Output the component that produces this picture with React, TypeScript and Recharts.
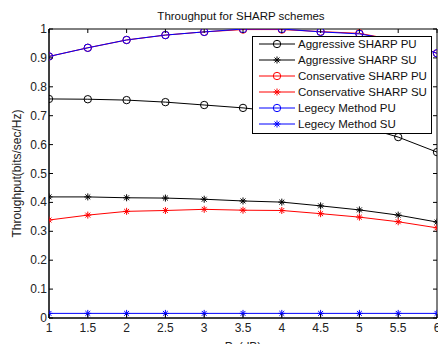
import React from 'react';
import { LineChart, Line, XAxis, YAxis, Legend, ReferenceArea } from 'recharts';

const ps = [1, 1.5, 2, 2.5, 3, 3.5, 4, 4.5, 5, 5.5, 6];
const aggressivePU = [0.758, 0.757, 0.754, 0.747, 0.737, 0.727, 0.713, 0.693, 0.665, 0.626, 0.574];
const aggressiveSU = [0.419, 0.419, 0.416, 0.415, 0.411, 0.405, 0.401, 0.388, 0.374, 0.356, 0.332];
const conservativePU = [0.905, 0.935, 0.962, 0.979, 0.99, 0.998, 0.998, 0.991, 0.985, 0.96, 0.916];
const conservativeSU = [0.339, 0.356, 0.369, 0.372, 0.376, 0.373, 0.372, 0.361, 0.349, 0.333, 0.312];
const legacyPU = [0.905, 0.935, 0.962, 0.979, 0.99, 1.0, 1.0, 0.99, 0.983, 0.96, 0.916];
const legacySU = [0.016, 0.016, 0.016, 0.016, 0.016, 0.016, 0.016, 0.016, 0.016, 0.016, 0.016];
const xTicks = [1, 1.5, 2, 2.5, 3, 3.5, 4, 4.5, 5, 5.5, 6];
const yTicks = [0, 0.1, 0.2, 0.3, 0.4, 0.5, 0.6, 0.7, 0.8, 0.9, 1];

const seriesNames = [
  'Aggressive SHARP PU',
  'Aggressive SHARP SU',
  'Conservative SHARP PU',
  'Conservative SHARP SU',
  'Legecy Method PU',
  'Legecy Method SU',
];
const seriesColors = ['#000000', '#000000', '#ff0000', '#ff0000', '#0000ff', '#0000ff'];
const seriesMarkers = ['circle', 'star', 'circle', 'star', 'circle', 'star'];
const seriesKeys = ['aPU', 'aSU', 'cPU', 'cSU', 'lPU', 'lSU'];

const data = ps.map((p, i) => ({
  ps: p,
  aPU: aggressivePU[i],
  aSU: aggressiveSU[i],
  cPU: conservativePU[i],
  cSU: conservativeSU[i],
  lPU: legacyPU[i],
  lSU: legacySU[i],
}));

const FONT = '"Liberation Sans", Arial, sans-serif';
const PLOT_W = 388;
const PLOT_H = 289;

const Star = ({ cx, cy, color, s = 3.5 }: any) => {
  const d = s * 0.7;
  return (
    <g stroke={color} strokeWidth={1}>
      <line x1={cx - s} y1={cy} x2={cx + s} y2={cy} />
      <line x1={cx} y1={cy - s} x2={cx} y2={cy + s} />
      <line x1={cx - d} y1={cy - d} x2={cx + d} y2={cy + d} />
      <line x1={cx - d} y1={cy + d} x2={cx + d} y2={cy - d} />
    </g>
  );
};

const makeDot = (marker: string, color: string) => (props: any) => {
  const { cx, cy, index } = props;
  if (cx == null || cy == null) return <g key={index} />;
  if (marker === 'circle') {
    return <circle key={index} cx={cx} cy={cy} r={3.7} fill="none" stroke={color} strokeWidth={1} />;
  }
  return <Star key={index} cx={cx} cy={cy} color={color} />;
};

const XTick = (props: any) => {
  const { x, y, payload } = props;
  return (
    <g>
      <line x1={x} x2={x} y1={y} y2={y - 4} stroke="#000" />
      <line x1={x} x2={x} y1={y - PLOT_H} y2={y - PLOT_H + 4} stroke="#000" />
      <text x={x} y={y + 14} textAnchor="middle" fontSize={12} fill="#222" fontFamily={FONT}>
        {payload.value}
      </text>
    </g>
  );
};

const YTick = (props: any) => {
  const { x, y, payload } = props;
  return (
    <g>
      <line x1={x} x2={x + 4} y1={y} y2={y} stroke="#000" />
      <line x1={x + PLOT_W} x2={x + PLOT_W - 4} y1={y} y2={y} stroke="#000" />
      <text x={x - 2} y={y + 4} textAnchor="end" fontSize={12} fill="#222" fontFamily={FONT}>
        {payload.value}
      </text>
    </g>
  );
};

const LegendBox = () => (
  <svg width={180} height={98} style={{ display: 'block' }}>
    <rect x={0.5} y={0.5} width={179} height={97} fill="#fff" stroke="#000" strokeWidth={1} />
    {seriesNames.map((name, i) => {
      const cy = 8 + i * 16;
      const color = seriesColors[i];
      return (
        <g key={name}>
          <line x1={7} x2={43} y1={cy} y2={cy} stroke={color} strokeWidth={1} />
          {seriesMarkers[i] === 'circle' ? (
            <circle cx={25} cy={cy} r={3.7} fill="none" stroke={color} strokeWidth={1} />
          ) : (
            <Star cx={25} cy={cy} color={color} />
          )}
          <text x={46} y={cy + 4} fontSize={11.5} fill="#111" fontFamily={FONT}>
            {name}
          </text>
        </g>
      );
    })}
  </svg>
);

export default function App() {
  return (
    <div style={{ position: 'absolute', left: 0, top: 0, width: 438, height: 344, background: '#fff' }}>
      <LineChart width={438} height={344} data={data} margin={{ top: 29, right: 1, bottom: 0, left: 0 }}>
        <XAxis
          dataKey="ps"
          type="number"
          domain={[1, 6]}
          ticks={xTicks}
          tickLine={false}
          tickSize={0}
          tickMargin={0}
          height={26}
          axisLine={{ stroke: '#000' }}
          tick={<XTick />}
          interval={0}
          allowDataOverflow
          label={(p: any) => {
            const vb = p.viewBox || {};
            return (
              <text x={vb.x + vb.width / 2} y={351} textAnchor="middle" fontSize={12} fill="#222" fontFamily={FONT}>
                Ps(dB)
              </text>
            );
          }}
        />
        <YAxis
          type="number"
          domain={[0, 1]}
          ticks={yTicks}
          tickLine={false}
          tickSize={0}
          tickMargin={0}
          width={49}
          axisLine={{ stroke: '#000' }}
          tick={<YTick />}
          interval={0}
          allowDataOverflow
          label={(p: any) => {
            const vb = p.viewBox || {};
            const cy = vb.y + vb.height / 2;
            return (
              <text
                x={17}
                y={cy}
                transform={`rotate(-90 17 ${cy})`}
                textAnchor="middle"
                dominantBaseline="central"
                fontSize={12}
                fill="#222"
                fontFamily={FONT}
              >
                Throughput(bits/sec/Hz)
              </text>
            );
          }}
        />
        <ReferenceArea x1={1} x2={6} y1={0} y2={1} fill="none" stroke="#000" strokeWidth={1} ifOverflow="visible" />
        {seriesKeys.map((k, i) => (
          <Line
            key={k}
            dataKey={k}
            name={seriesNames[i]}
            type="linear"
            stroke={seriesColors[i]}
            strokeWidth={1}
            dot={makeDot(seriesMarkers[i], seriesColors[i])}
            activeDot={false}
            isAnimationActive={false}
          />
        ))}
        <Legend
          layout="vertical"
          align="center"
          verticalAlign="middle"
          content={() => <LegendBox />}
          wrapperStyle={{ position: 'absolute', left: 252, top: 36, width: 180, height: 98 }}
        />
      </LineChart>
      <div
        style={{
          position: 'absolute',
          left: 0,
          top: 0,
          width: 438,
          textAlign: 'center',
          pointerEvents: 'none',
        }}
      >
        <svg width={438} height={28} style={{ display: 'block' }}>
          <text x={241} y={20} textAnchor="middle" fontSize={11.5} fill="#111" fontFamily={FONT}>
            Throughput for SHARP schemes
          </text>
        </svg>
      </div>
    </div>
  );
}
